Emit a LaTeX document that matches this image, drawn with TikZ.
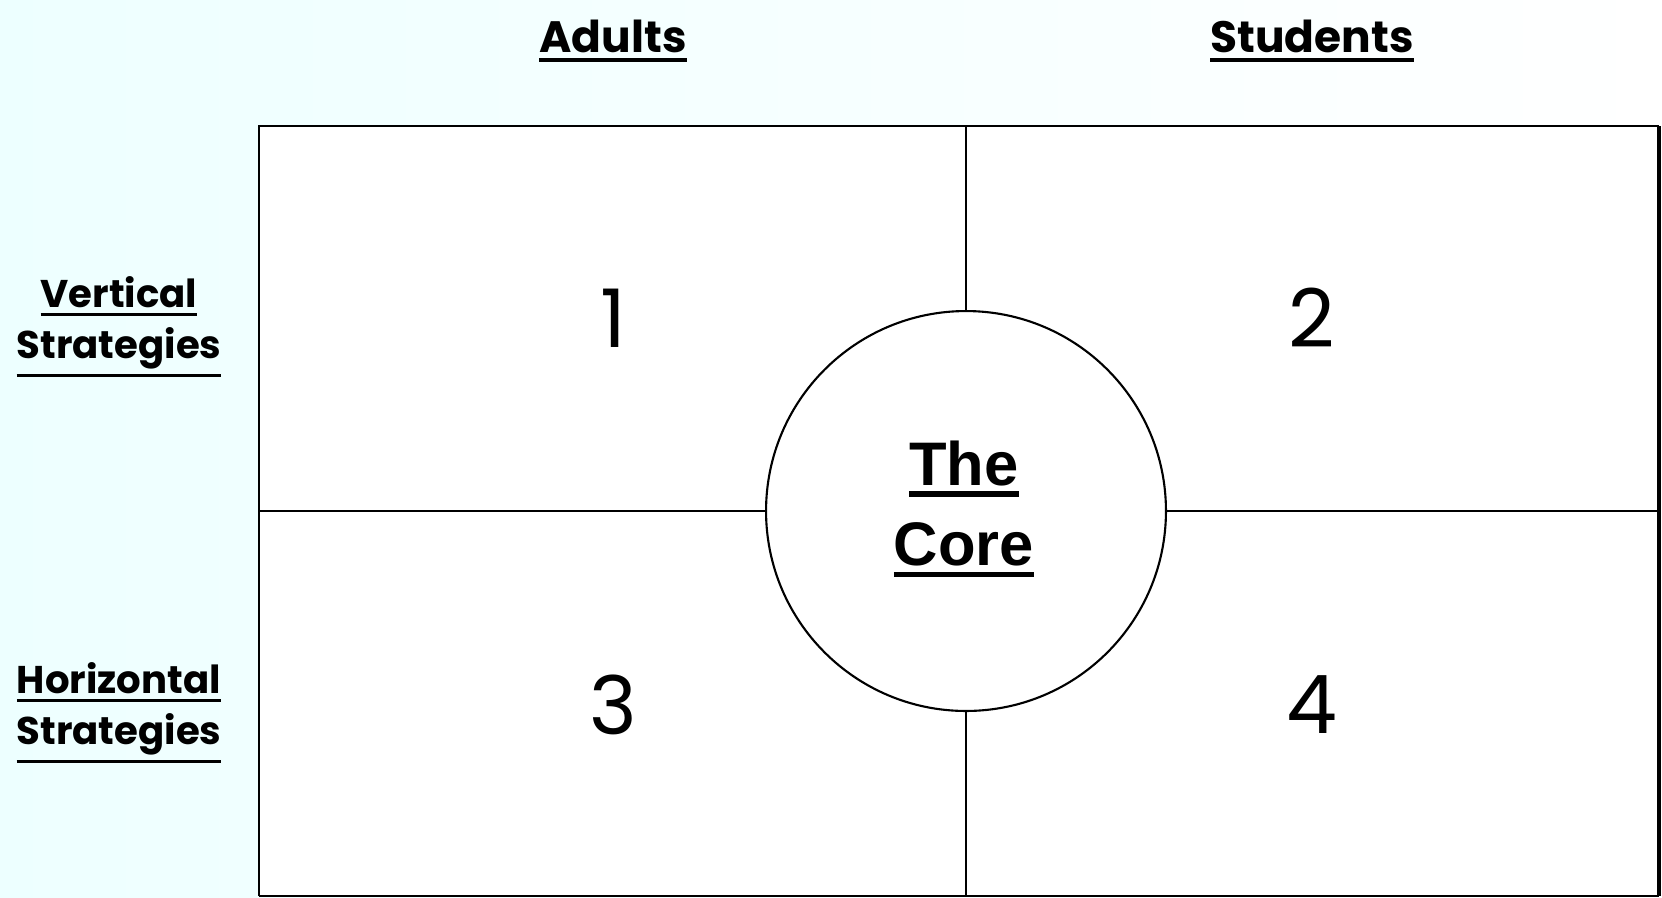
\documentclass[tikz,border=0pt]{standalone}
\usepackage{fontspec}
\setmainfont{Poppins}
\newfontfamily\corefont{Liberation Sans}
\usepackage{xcolor}

% thick underline: #1 rule thickness, #2 gap, #3 text
\newcommand{\ulw}[3]{\leavevmode\vtop{\hbox{#3}\kern#2\hrule height #1}}

\tikzset{
  gridline/.style={line width=1.2pt},
  head/.style={font=\fontsize{25}{30}\selectfont\bfseries, inner sep=0pt},
  side/.style={font=\fontsize{22}{29}\selectfont\bfseries, align=center, inner sep=0pt},
  num/.style={font=\fontsize{46}{50}\selectfont, inner sep=0pt},
}

\begin{document}
\begin{tikzpicture}[x=0.02cm,y=-0.02cm]
		\useasboundingbox[left color=cyan!7,right color=white] (0,0) rectangle (1662,897);
		% grid corners
		\coordinate (tl) at (259,126);
		\coordinate (tm) at (966,126);
		\coordinate (tr) at (1659,126);
		\coordinate (ml) at (259,511);
		\coordinate (mr) at (1659,511);
		\coordinate (bl) at (259,896);
		\coordinate (bm) at (966,896);
		\coordinate (br) at (1659,896);
		\fill[white] (tl) rectangle (br);
		\draw[gridline] (bl)--(tl)--(tr);
		\draw[gridline] (bl)--(br);
		\draw[line width=2.4pt] (tr)--(br);
		% the core
		\node[circle,draw,fill=white,line width=1.2pt,minimum size=8cm,inner sep=0pt] (core) at (966,511) {};
		\draw[gridline] (tm)--(core.north);
		\draw[gridline] (core.south)--(bm);
		\draw[gridline] (ml)--(core.west);
		\draw[gridline] (core.east)--(mr);
		\node[align=center,font=\corefont\fontsize{35}{38}\selectfont\bfseries] (coretext) at (964,509) {\ulw{3.2pt}{3pt}{The}\\[8pt]\ulw{3.2pt}{3pt}{Core}};
		% headings
		\node[head] (adults) at (613,41) {\ulw{2.2pt}{3pt}{Adults}};
		\node[head] (students) at (1312,41) {\ulw{2.2pt}{3pt}{Students}};
		\node[side] (vert) at (119,327) {\ulw{1.8pt}{2.5pt}{Vertical}\\\ulw{1.8pt}{2.5pt}{Strategies}};
		\node[side] (horiz) at (119,713) {\ulw{1.8pt}{2.5pt}{Horizontal}\\\ulw{1.8pt}{2.5pt}{Strategies}};
		% quadrant numbers
		\node[num] (q1) at (613,318) {1};
		\node[num] (q2) at (1312,318) {2};
		\node[num] (q3) at (613,705) {3};
		\node[num] (q4) at (1312,705) {4};
	\end{tikzpicture}
\end{document}
